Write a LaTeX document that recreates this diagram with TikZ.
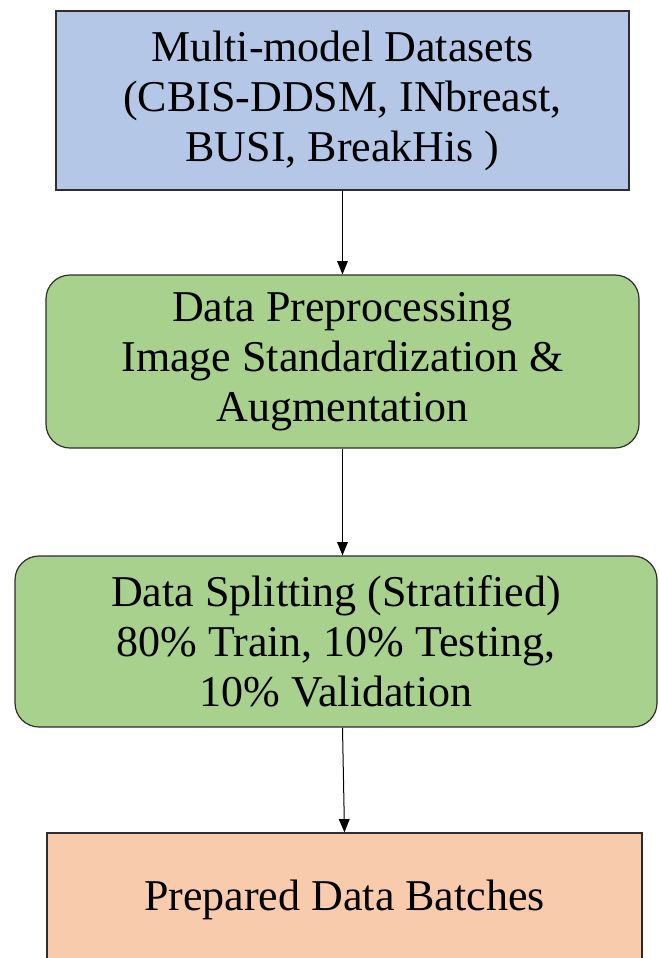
\documentclass[tikz,border=0pt]{standalone}
\usepackage{fontspec}
\setmainfont{Liberation Serif}
\newfontfamily\diagfont{Liberation Serif}
\usetikzlibrary{arrows.meta,calc}
\definecolor{boxblue}{HTML}{B4C7E7}
\definecolor{boxgreen}{HTML}{A9D18E}
\definecolor{boxorange}{HTML}{F8CBAD}
\definecolor{edgegray}{HTML}{2E2E2E}
\tikzset{
  basebox/.style={draw=edgegray, line width=0.9pt, align=center, inner sep=0pt,
    font=\diagfont\fontsize{33}{37.5}\selectfont},
  squarebox/.style={basebox, rectangle},
  roundbox/.style={basebox, rectangle, rounded corners=18pt},
  flowarrow/.style={draw=black, line width=0.75pt, -{Triangle[length=10pt,width=8pt]}}
}
\begin{document}
\begin{tikzpicture}[x=0.75pt,y=-0.75pt]
\useasboundingbox (0,0) rectangle (659,958);
\fill[white] (0,0) rectangle (659,958);
\node[squarebox, fill=boxblue, minimum width=429.75pt, minimum height=134.25pt] (b1) at (342.5,100.5)
  {Multi-model Datasets\\(CBIS-DDSM, INbreast,\\BUSI, BreakHis )};
\node[roundbox, fill=boxgreen, minimum width=444.75pt, minimum height=129.75pt] (b2) at (342.5,361.5)
  {Data Preprocessing\\Image Standardization \&\\Augmentation};
\node[roundbox, fill=boxgreen, minimum width=481.5pt, minimum height=128.25pt] (b3) at (336,641.5)
  {Data Splitting (Stratified)\\80\% Train, 10\% Testing,\\10\% Validation};
\node[squarebox, fill=boxorange, minimum width=446.25pt, minimum height=99.75pt] (b4) at (344.5,899.5)
  {Prepared Data Batches};
\draw[flowarrow] (b1.south) -- (b2.north);
\draw[flowarrow] (b2.south) -- (b2.south |- b3.north);
\draw[flowarrow] (b3.south -| b2.south) -- (b4.north);
\end{tikzpicture}
\end{document}
